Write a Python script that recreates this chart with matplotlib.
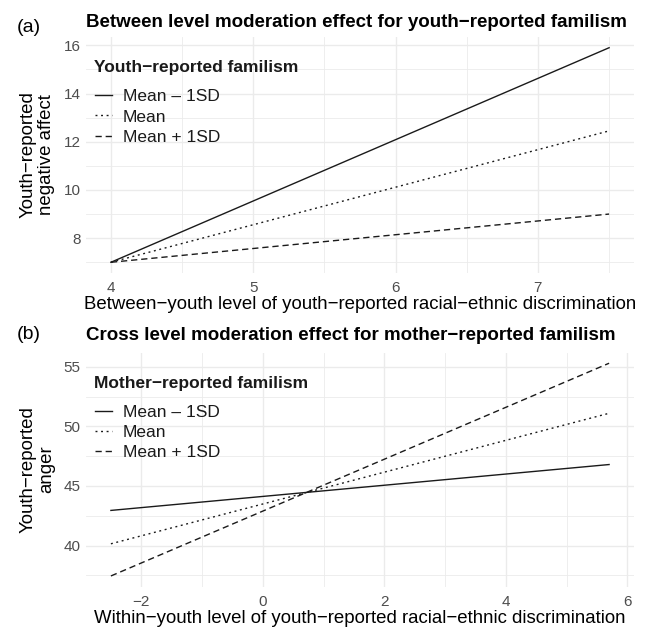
import matplotlib
matplotlib.use("Agg")
import matplotlib.pyplot as plt
from matplotlib.ticker import MultipleLocator

plt.rcParams['font.family'] = ['Liberation Sans', 'DejaVu Sans']

# ---- data ----
labels = ["Mean \u2013 1SD", "Mean", "Mean + 1SD"]

x_a = [4.0, 7.5]
a_low = [7.0, 15.9]
a_mean = [7.0, 12.45]
a_high = [7.0, 9.0]

x_b = [-2.5, 5.7]
b_low = [42.95, 46.8]
b_mean = [40.15, 51.1]
b_high = [37.45, 55.3]

W, H = 649, 627
fig = plt.figure(figsize=(W / 100, H / 100), dpi=100)

GRID = "#EBEBEB"
TICKC = "#4D4D4D"
styles = [dict(ls="-"), dict(dashes=(1.4, 2.6)), dict(dashes=(4.5, 2.8))]


def make_panel(rect, x, ys, xmaj, ymaj, xlab, ylab, legtitle):
    ax = fig.add_axes(rect)
    hpx = rect[3] * H
    for y, lab, st in zip(ys, labels, styles):
        ax.plot(x, y, color="#1a1a1a", lw=1.0, label=lab, **st)
    ax.xaxis.set_major_locator(MultipleLocator(xmaj))
    ax.xaxis.set_minor_locator(MultipleLocator(xmaj / 2))
    ax.yaxis.set_major_locator(MultipleLocator(ymaj))
    ax.yaxis.set_minor_locator(MultipleLocator(ymaj / 2))
    ax.grid(which="major", color=GRID, lw=1.0)
    ax.grid(which="minor", color=GRID, lw=0.6)
    ax.set_axisbelow(True)
    for s in ax.spines.values():
        s.set_visible(False)
    ax.tick_params(which="both", length=0, labelsize=11, colors=TICKC)
    ax.tick_params(axis="x", pad=6)
    ax.tick_params(axis="y", pad=4)
    ax.set_xlabel(xlab, fontsize=13.4, color="black")
    ax.xaxis.set_label_coords(0.5, -0.135)
    ax.xaxis.label.set_va("center")
    ax.set_ylabel(ylab, fontsize=13.4, color="black", linespacing=1.12)
    ax.yaxis.set_label_coords(-0.089, 0.5)
    ax.yaxis.label.set_va("center")
    xr = max(x) - min(x)
    ax.set_xlim(min(x) - 0.05 * xr, max(x) + 0.05 * xr)
    lo = min(min(y) for y in ys)
    hi = max(max(y) for y in ys)
    ax.set_ylim(lo - 0.05 * (hi - lo), hi + 0.05 * (hi - lo))
    # legend title drawn as text, entries below it
    ax.text(0.015, 1 - 31 / hpx, legtitle, transform=ax.transAxes, fontsize=12.5,
            weight="bold", va="center", ha="left", color="#1a1a1a")
    leg = ax.legend(loc="upper left", bbox_to_anchor=(0.016, 1 - 52 / hpx), frameon=False,
                    fontsize=12.5, handlelength=1.0, handletextpad=0.62,
                    labelspacing=0.3, borderpad=0, borderaxespad=0)
    for t in leg.get_texts():
        t.set_color("#1a1a1a")
    return ax


# panel (a)
ax1 = make_panel([86 / W, 1 - 273 / H, 548 / W, 236 / H], x_a,
                 [a_low, a_mean, a_high], 1, 2,
                 "Between\u2212youth level of youth\u2212reported racial\u2212ethnic discrimination",
                 "Youth\u2212reported\nnegative affect",
                 "Youth\u2212reported familism")
fig.text(86 / W, 1 - 27 / H, "Between level moderation effect for youth\u2212reported familism",
         fontsize=13.5, weight="bold", va="baseline", ha="left")
fig.text(17 / W, 1 - 32 / H, "(a)", fontsize=14, va="baseline", ha="left")

# panel (b)
ax2 = make_panel([86 / W, 1 - 586.6 / H, 548 / W, 234 / H], x_b,
                 [b_low, b_mean, b_high], 2, 5,
                 "Within\u2212youth level of youth\u2212reported racial\u2212ethnic discrimination",
                 "Youth\u2212reported\nanger",
                 "Mother\u2212reported familism")
fig.text(86 / W, 1 - 340 / H, "Cross level moderation effect for mother\u2212reported familism",
         fontsize=13.5, weight="bold", va="baseline", ha="left")
fig.text(17 / W, 1 - 339 / H, "(b)", fontsize=14, va="baseline", ha="left")

fig.savefig("out.png", dpi=100)
